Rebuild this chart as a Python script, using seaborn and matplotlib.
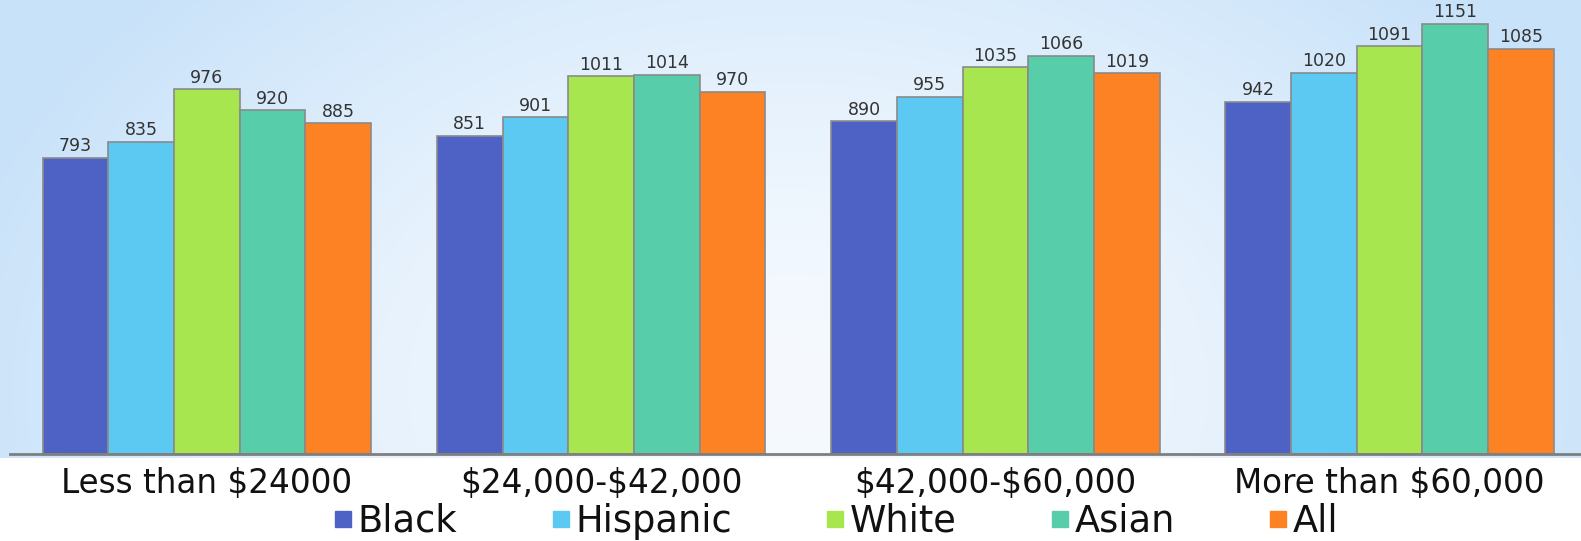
import numpy as np
import pandas as pd
import matplotlib
matplotlib.use("Agg")
import matplotlib.pyplot as plt
from matplotlib.lines import Line2D
import seaborn as sns

# ---- data ----
categories = ["Less than $24000", "$24,000-$42,000", "$42,000-$60,000", "More than $60,000"]
groups = ["Black", "Hispanic", "White", "Asian", "All"]
black = [793, 851, 890, 942]
hispanic = [835, 901, 955, 1020]
white = [976, 1011, 1035, 1091]
asian = [920, 1014, 1066, 1151]
all_ = [885, 970, 1019, 1085]

colors = ["#4E62C5", "#5BC9F1", "#A8E64F", "#58CDAA", "#FC8223"]

series = [black, hispanic, white, asian, all_]
df = pd.DataFrame({
    "category": [c for s in series for c in categories],
    "group": [g for g, s in zip(groups, series) for _ in s],
    "value": [v for s in series for v in s],
})

sns.set_theme(style="white")
plt.rcParams["font.family"] = ["DejaVu Sans"]
plt.rcParams["text.parse_math"] = False

W, H, DPI = 1581, 541, 100
fig = plt.figure(figsize=(W / DPI, H / DPI), dpi=DPI, facecolor="white")

# background gradient (top area)
bg_bottom = 458
bg = fig.add_axes([0, 1 - bg_bottom / H, 1, bg_bottom / H], zorder=0)
ny, nx = 200, 600
yy, xx = np.mgrid[0:1:ny * 1j, 0:1:nx * 1j]
d = np.sqrt(((xx - 0.5) / 0.55) ** 2 + ((yy - 0.85) / 1.3) ** 2)
t = np.clip(d, 0, 1) ** 1.5
c_in = np.array([246, 250, 255]) / 255
c_out = np.array([200, 226, 249]) / 255
img = c_in[None, None, :] * (1 - t[..., None]) + c_out[None, None, :] * t[..., None]
bg.imshow(img, aspect="auto", extent=[0, 1, 0, 1], origin="upper")
bg.set_axis_off()

# main axes
left_px, right_px, base_px = 9.6, 1581, 454
ax = fig.add_axes([left_px / W, 1 - base_px / H, (right_px - left_px) / W, base_px / H], zorder=1)
ax.patch.set_alpha(0)

sns.barplot(data=df, x="category", y="value", hue="group", order=categories,
            hue_order=groups, palette=colors, width=0.833, gap=0,
            edgecolor="#8a8a8a", linewidth=1.2, saturation=1, errorbar=None, ax=ax,
            legend=False)

spacing = 394.3
ax.set_xlim(-0.5, -0.5 + (right_px - left_px) / spacing)
ax.set_ylim(0, base_px / 0.3736)

for cont in ax.containers:
    ax.bar_label(cont, fmt="%d", padding=2, fontsize=12.5, color="#333333")

ax.set_xlabel("")
ax.set_ylabel("")
ax.set_yticks([])
for s in ["top", "left", "right"]:
    ax.spines[s].set_visible(False)
ax.spines["bottom"].set_color("#7f7f7f")
ax.spines["bottom"].set_linewidth(2)
ax.tick_params(axis="x", length=0, pad=9, labelsize=23.5, labelcolor="#111111")

handles = [Line2D([], [], marker="s", linestyle="", markersize=11,
                  markerfacecolor=c, markeredgecolor=c) for c in colors]
fig.legend(handles, groups, loc="center", bbox_to_anchor=(836 / W, 1 - 521 / H),
           ncol=5, frameon=False, fontsize=26.5, handlelength=0.5, handletextpad=0.15,
           columnspacing=2.55, borderpad=0, borderaxespad=0, labelcolor="#111111")

fig.savefig("out.png", dpi=DPI, facecolor="white")
